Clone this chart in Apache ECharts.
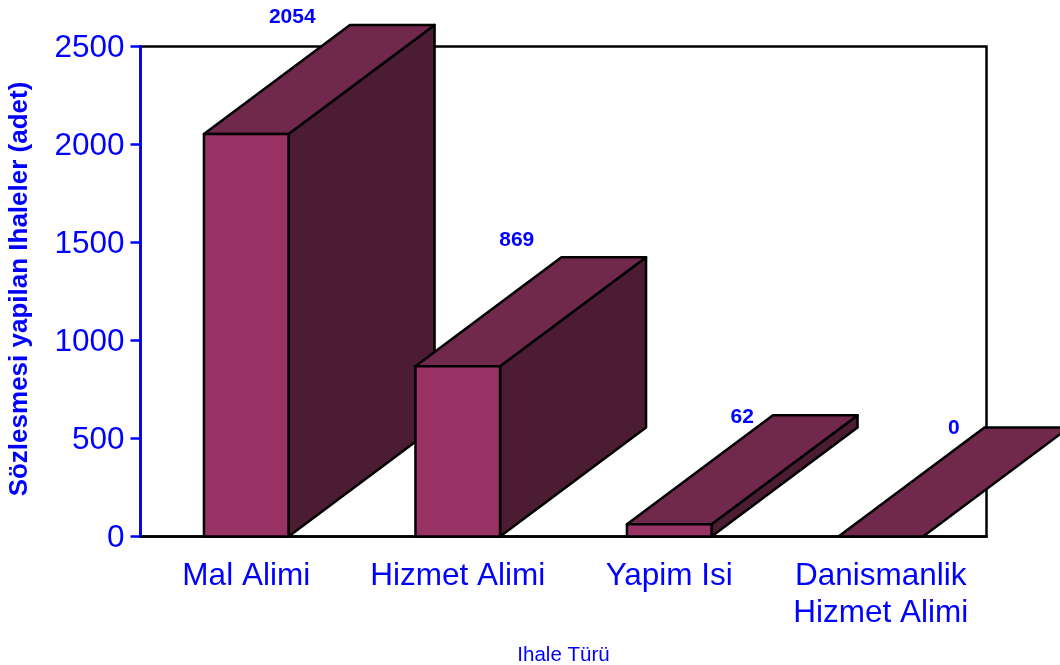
<!DOCTYPE html>
<html>
<head>
<meta charset="utf-8">
<style>html,body{margin:0;padding:0;background:#fff}#c{width:1060px;height:665px}</style>
<script src="https://cdn.jsdelivr.net/npm/echarts@6/dist/echarts.min.js"></script>
</head>
<body>
<div id="c"></div>
<script>
const categories = ['Mal Alimi', 'Hizmet Alimi', 'Yapim Isi', 'Danismanlik\nHizmet Alimi'];
const values = [2054, 869, 62, 0];
const yTicks = [0, 500, 1000, 1500, 2000, 2500];

// layout only
const depthX = 146, depthY = 109;
const labelOffsetX = [45, 58, 72, 72];
const labelOffsetY = [-8, -17, 2, 1];
const colorFront = '#993366', colorTop = '#70284c', colorSide = '#4c1c33';
const font = '"Liberation Sans", Arial, sans-serif';
const blue = '#0000ff';

const chart = echarts.init(document.getElementById('c'), null, {renderer: 'canvas'});
chart.setOption({
  animation: false,
  backgroundColor: '#fff',
  grid: {left: 140.5, right: 73.5, top: 46.5, bottom: 128.5, outerBoundsMode: 'none', containLabel: false, show: true, borderColor: '#000', borderWidth: 2.5, backgroundColor: '#fff'},
  xAxis: {
    type: 'category', data: categories,
    axisLine: {show: true, lineStyle: {color: '#000', width: 2.5}},
    axisTick: {show: false},
    axisLabel: {color: blue, fontFamily: font, fontSize: 31.5, lineHeight: 37, margin: 21, interval: 0},
    name: 'Ihale Türü', nameLocation: 'middle', nameGap: 108,
    nameTextStyle: {color: blue, fontFamily: font, fontSize: 20.5}
  },
  yAxis: {
    type: 'value', min: yTicks[0], max: yTicks[yTicks.length - 1], interval: 500,
    splitLine: {show: false},
    axisLine: {show: true, lineStyle: {color: blue, width: 2.5}},
    axisTick: {show: true, length: 10, lineStyle: {color: blue, width: 2.5}},
    axisLabel: {
      color: blue, fontFamily: font, fontSize: 31.5, margin: 16,
      formatter: v => '{t|' + v + '}',
      rich: {t: {color: blue, fontFamily: font, fontSize: 31.5, padding: [4, 0, 0, 0]}}
    },
    name: 'Sözlesmesi yapilan Ihaleler (adet)', nameLocation: 'middle', nameGap: 108,
    nameTextStyle: {color: blue, fontFamily: font, fontSize: 26, fontWeight: 'bold', padding: [0, 0, 0, 5]}
  },
  series: [{
    type: 'custom',
    clip: false,
    data: values,
    encode: {x: 0, y: 1},
    renderItem(params, api) {
      const i = params.dataIndex;
      const v = api.value(1);
      const base = api.coord([i, 0]);
      const top = api.coord([i, v]);
      const w = api.size([1, 0])[0] * 0.4;
      const x0 = base[0] - w / 2, x1 = base[0] + w / 2;
      const yb = base[1], yt = top[1];
      const line = {stroke: '#000', lineWidth: 2.5, lineJoin: 'round'};
      const children = [];
      if (v > 0) {
        children.push({type: 'polygon', shape: {points: [[x1, yt], [x1 + depthX, yt - depthY], [x1 + depthX, yb - depthY], [x1, yb]]}, style: Object.assign({fill: colorSide}, line)});
      }
      children.push({type: 'polygon', shape: {points: [[x0, yt], [x0 + depthX, yt - depthY], [x1 + depthX, yt - depthY], [x1, yt]]}, style: Object.assign({fill: colorTop}, line)});
      if (v > 0) {
        children.push({type: 'rect', shape: {x: x0, y: yt, width: w, height: yb - yt}, style: Object.assign({fill: colorFront}, line)});
      }
      children.push({
        type: 'text',
        style: {
          x: base[0] + labelOffsetX[i] + 1, y: yt - depthY + labelOffsetY[i],
          text: String(v), fill: blue, align: 'center', verticalAlign: 'middle',
          font: 'bold 21px ' + font
        }
      });
      return {type: 'group', children};
    }
  }]
});
</script>
</body>
</html>
